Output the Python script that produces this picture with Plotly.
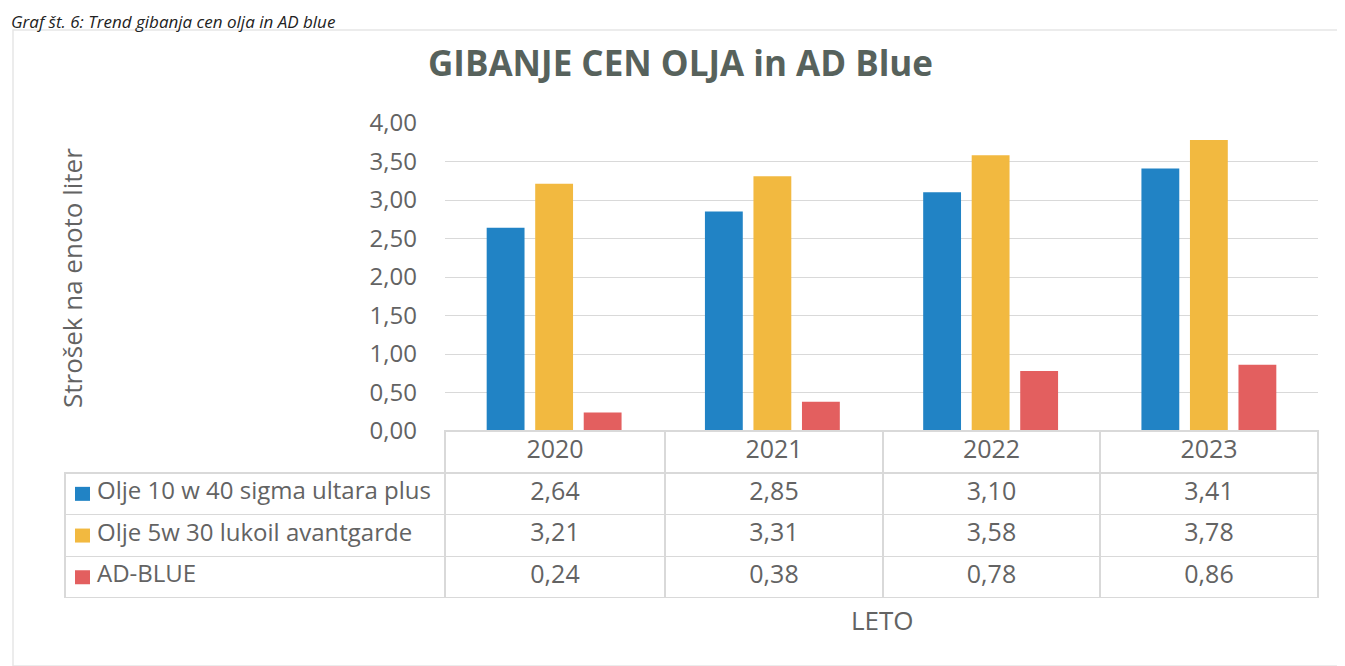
import plotly.graph_objects as go

years = ["2020", "2021", "2022", "2023"]
series_names = ["Olje 10 w 40 sigma ultara plus", "Olje 5w 30 lukoil avantgarde", "AD-BLUE"]
olje_10w40 = [2.64, 2.85, 3.10, 3.41]
olje_5w30 = [3.21, 3.31, 3.58, 3.78]
ad_blue = [0.24, 0.38, 0.78, 0.86]
y_ticks = [0, 0.5, 1, 1.5, 2, 2.5, 3, 3.5, 4]

colors = ["#2183C5", "#F2B940", "#E35F5F"]
series_values = [olje_10w40, olje_5w30, ad_blue]

# page has an 8px body margin; map reference page pixels to figure paper coords
OFF = 8
W, H = 1345 - OFF, 666 - OFF
def px_x(p):
    return (p - OFF) / W
def px_y(p):
    return 1 - (p - OFF) / H

TXT = "#636363"
FONT = "Open Sans, Lato, sans-serif"
NB = "\u00a0"

fig = go.Figure()
for name, vals, col in zip(series_names, series_values, colors):
    fig.add_trace(go.Bar(x=years, y=vals, name=name, marker=dict(color=col, line=dict(width=0)),
                         showlegend=False))

def fmt(v):
    return f"{v:.2f}".replace(".", ",")

# table geometry (reference pixels)
T_LEFT, T_RIGHT, T_TOP = 65, 1318, 431
HEADER_H, ROW_H = 42, 41.7
T_BOTTOM = T_TOP + HEADER_H + ROW_H * len(series_names)

first_col = ["\u2003" + n.replace(" ", NB) for n in series_names]
cols = [first_col] + [[fmt(s[i]) for s in series_values] for i in range(len(years))]

line_col = "#D9D9D9"
fig.add_trace(go.Table(
    domain=dict(x=[px_x(T_LEFT), px_x(T_RIGHT)], y=[px_y(T_BOTTOM), px_y(T_TOP)]),
    columnwidth=[380, 220, 218, 217, 218],
    header=dict(values=[""] + years,
                line=dict(color=["rgba(255,255,255,0)"] + [line_col] * 4, width=1.3),
                fill=dict(color="rgba(255,255,255,0)"),
                align="center", height=HEADER_H,
                font=dict(family=FONT, size=25, color=TXT)),
    cells=dict(values=cols,
               line=dict(color=line_col, width=1.3),
               fill=dict(color="rgba(255,255,255,0)"),
               align=["left", "center", "center", "center", "center"],
               height=ROW_H,
               font=dict(family=FONT, size=[24, 25, 25, 25, 25], color=TXT)),
))

# legend-key squares in the first table column
key_shapes = []
for i, c in enumerate(colors):
    cy = T_TOP + HEADER_H + ROW_H * (i + 0.5)
    key_shapes.append(dict(type="rect", xref="paper", yref="paper",
                           x0=px_x(T_LEFT + 10), x1=px_x(T_LEFT + 25),
                           y0=px_y(cy + 7), y1=px_y(cy - 7),
                           fillcolor=c, line=dict(width=0)))

fig.update_layout(
    width=W, height=H,
    margin=dict(l=0, r=0, t=0, b=0, autoexpand=False),
    paper_bgcolor="white", plot_bgcolor="white",
    separators=", ",
    barmode="group", bargap=0.333, bargroupgap=0.22,
    xaxis=dict(domain=[px_x(445), px_x(T_RIGHT)], showticklabels=False, showgrid=False,
               zeroline=False, showline=False, ticks=""),
    yaxis=dict(domain=[px_y(T_TOP), px_y(123)], range=[0, 4], tickvals=y_ticks,
               tickformat=".2f", showgrid=True, gridcolor=line_col, gridwidth=1.3,
               zeroline=False, showline=False, ticks="", ticklabelstandoff=27,
               tickfont=dict(family=FONT, size=24, color=TXT)),
    font=dict(family=FONT, color=TXT),
    annotations=[
        dict(text="<b>GIBANJE CEN OLJA in AD Blue</b>", x=px_x(680), y=px_y(62), xref="paper", yref="paper",
             xanchor="center", yanchor="middle", showarrow=False,
             font=dict(family=FONT, size=35, color="#57625C")),
        dict(text="Strošek na enoto liter", x=px_x(72), y=px_y(278), xref="paper", yref="paper",
             xanchor="center", yanchor="middle", textangle=-90, showarrow=False,
             font=dict(family=FONT, size=26, color=TXT)),
        dict(text="LETO", x=px_x(882), y=px_y(620), xref="paper", yref="paper",
             xanchor="center", yanchor="middle", showarrow=False,
             font=dict(family=FONT, size=26, color=TXT)),
        dict(text="<i>Graf št. 6: Trend gibanja cen olja in AD blue</i>", x=px_x(9), y=px_y(8), xref="paper", yref="paper",
             xanchor="left", yanchor="top", showarrow=False,
             font=dict(family=FONT, size=17, color="#222222")),
    ],
    shapes=[
        dict(type="rect", xref="paper", yref="paper", x0=px_x(13), x1=px_x(1340), y0=px_y(666), y1=px_y(30),
             line=dict(color="#E6E6E6", width=1.5)),
        dict(type="line", xref="paper", yref="paper", x0=px_x(445), x1=px_x(T_RIGHT), y0=px_y(T_TOP), y1=px_y(T_TOP),
             line=dict(color=line_col, width=1.3)),
    ] + key_shapes,
)

fig.write_html("out.html")
